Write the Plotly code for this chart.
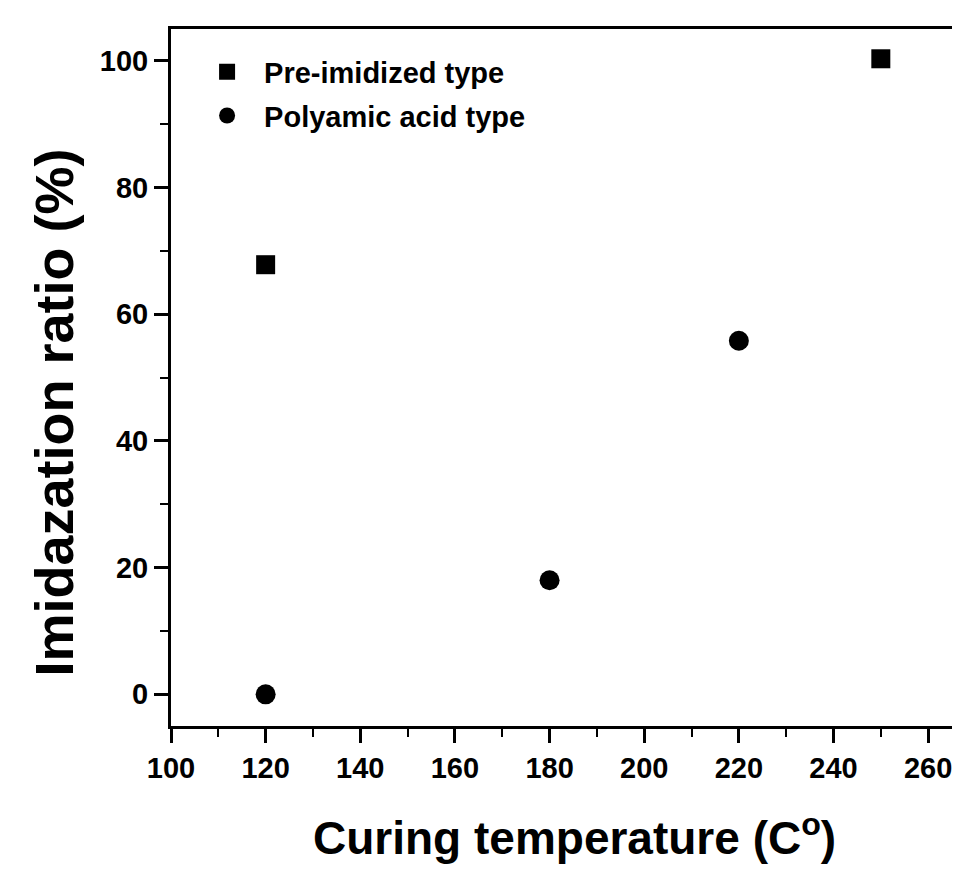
import plotly.graph_objects as go

# Data
pre_x = [120, 250]
pre_y = [67.8, 100.3]
poly_x = [120, 180, 220]
poly_y = [0, 18, 55.8]

x_ticks = [100, 120, 140, 160, 180, 200, 220, 240, 260]
y_ticks = [0, 20, 40, 60, 80, 100]

FONT = "Liberation Sans, Arial, sans-serif"

fig = go.Figure()
fig.add_trace(go.Scatter(
    x=pre_x, y=pre_y, mode="markers", name="Pre-imidized type",
    legendgroup="a",
    marker=dict(symbol="square", size=19, color="black"),
))
fig.add_trace(go.Scatter(
    x=poly_x, y=poly_y, mode="markers", name="Polyamic acid type",
    legendgroup="b",
    marker=dict(symbol="circle", size=20, color="black"),
))

axis_common = dict(
    showgrid=False, zeroline=False,
    showline=True, linecolor="black", linewidth=3,
    ticks="outside", ticklen=14, tickwidth=3, tickcolor="black",
    tickfont=dict(family=FONT, size=29, color="black", weight="bold"),
)

fig.update_xaxes(
    range=[100, 268], tickmode="array", tickvals=x_ticks,
    ticktext=[str(v) for v in x_ticks], mirror=True,
    ticklabelstandoff=0,
    minor=dict(dtick=10, tick0=100, ticks="outside", ticklen=8, tickwidth=2, tickcolor="black"),
    **axis_common,
)
fig.update_yaxes(
    range=[-5, 105], tickmode="array", tickvals=y_ticks,
    ticktext=[str(v) for v in y_ticks],
    minor=dict(dtick=10, tick0=0, ticks="outside", ticklen=8, tickwidth=2, tickcolor="black"),
    **axis_common,
)

fig.add_annotation(
    text="Imidazation ratio (%)", xref="paper", yref="paper",
    x=-0.147, y=0.45, textangle=-90, showarrow=False,
    xanchor="center", yanchor="middle",
    font=dict(family=FONT, size=54, color="black", weight="bold"),
)
fig.add_annotation(
    text="Curing temperature (C<sup>o</sup>)", xref="paper", yref="paper",
    x=0.508, y=-0.157, showarrow=False,
    xanchor="center", yanchor="middle",
    font=dict(family=FONT, size=46, color="black", weight="bold"),
)

fig.update_layout(
    width=960, height=870,
    margin=dict(l=163, r=2, t=21, b=152, autoexpand=False),
    paper_bgcolor="white", plot_bgcolor="white",
    showlegend=True,
    legend=dict(
        x=0.024, y=0.975, xanchor="left", yanchor="top",
        bgcolor="rgba(0,0,0,0)", borderwidth=0,
        font=dict(family=FONT, size=29, color="black", weight="bold"),
        itemwidth=64, tracegroupgap=3, traceorder="grouped",
    ),
)

fig.write_html("out.html")
